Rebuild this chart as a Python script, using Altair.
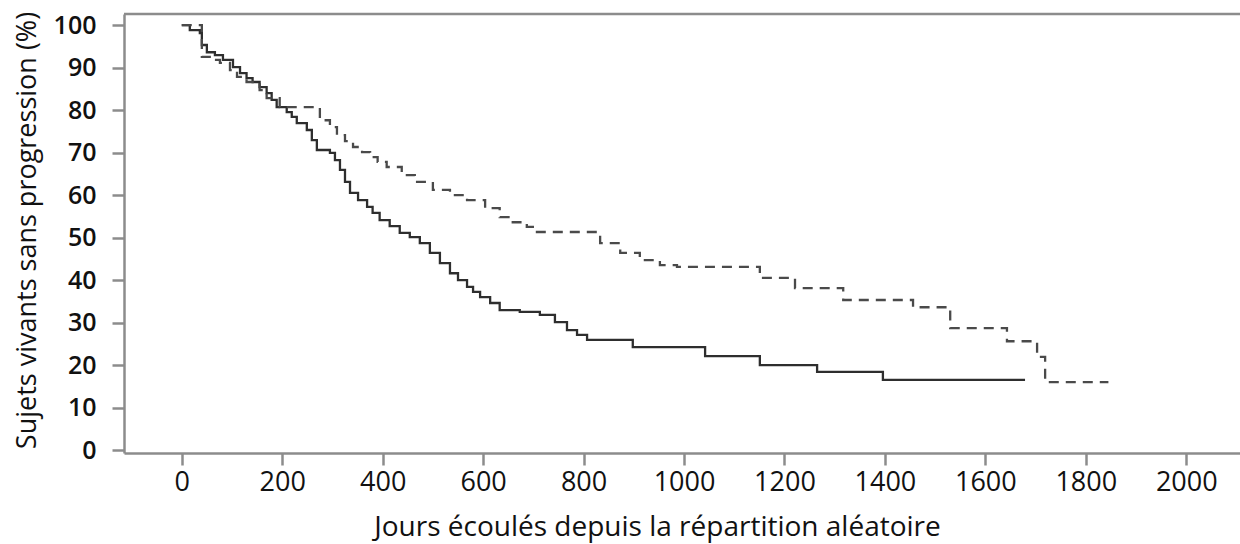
import altair as alt
import pandas as pd

# Kaplan-Meier style step curves: days since randomisation vs % alive without progression
solid_days = [0, 16, 36, 40, 50, 66, 82, 102, 116, 129, 141, 155, 169, 179, 189, 209, 219, 229,
              249, 259, 269, 295, 305, 315, 325, 335, 351, 369, 380, 394, 414, 434, 454, 474,
              494, 514, 534, 550, 568, 580, 594, 614, 633, 673, 713, 743, 767, 787, 807, 898,
              1042, 1151, 1265, 1396, 1679]
solid_pct = [100, 98.8, 98.1, 95.3, 93.6, 92.9, 91.8, 90.1, 88.7, 87.5, 86.6, 85.4, 84.0, 82.4,
             80.7, 79.5, 78.4, 76.9, 75.3, 72.9, 70.6, 69.9, 68.2, 65.9, 63.1, 60.5, 58.8, 57.2,
             55.8, 54.1, 52.7, 51.1, 50.1, 48.7, 46.4, 44.0, 41.6, 40.0, 38.4, 37.2, 36.0, 34.6,
             32.9, 32.5, 31.8, 30.1, 28.2, 27.1, 25.9, 24.2, 22.1, 20.0, 18.4, 16.5, 16.5]

dashed_days = [0, 40, 60, 76, 96, 110, 129, 155, 169, 195, 275, 295, 309, 325, 341, 359, 375,
               390, 408, 438, 464, 500, 534, 568, 604, 633, 659, 687, 699, 833, 873, 912, 952,
               986, 1151, 1221, 1317, 1456, 1530, 1643, 1703, 1719, 1845]
dashed_pct = [100, 92.5, 91.8, 91.1, 89.4, 87.8, 86.6, 84.7, 82.8, 80.7, 77.6, 76.0, 74.1, 72.7,
              71.3, 70.1, 68.9, 67.8, 66.6, 64.7, 63.1, 61.2, 60.0, 58.8, 56.9, 54.8, 53.6, 52.5,
              51.3, 48.7, 46.4, 44.7, 43.5, 43.1, 40.5, 38.1, 35.3, 33.6, 28.7, 25.6, 21.9,
              16.0, 16.0]

x_ticks = list(range(0, 2001, 200))
y_ticks = list(range(0, 101, 10))

groups = ["Groupe 1", "Groupe 2"]

df = pd.concat([
    pd.DataFrame({"jours": solid_days, "pct": solid_pct, "groupe": groups[0]}),
    pd.DataFrame({"jours": dashed_days, "pct": dashed_pct, "groupe": groups[1]}),
], ignore_index=True)

W, H = 1116, 439
AXIS_GREY = "#8c8c8c"
FONT = "Open Sans"

x_axis = alt.Axis(
    values=x_ticks, format="d", grid=False,
    domainColor=AXIS_GREY, domainWidth=2.5,
    tickColor=AXIS_GREY, tickWidth=2.5, tickSize=12,
    labelFont=FONT, labelFontSize=27, labelColor="#111111", labelPadding=4,
    title="Jours écoulés depuis la répartition aléatoire",
    titleFont=FONT, titleFontSize=28, titleFontWeight="normal", titleColor="#111111",
    titleX=533, titleY=74, titleAlign="center", titleBaseline="middle",
)

y_axis = alt.Axis(
    values=y_ticks, format="d", grid=False,
    domainColor=AXIS_GREY, domainWidth=2.5,
    tickColor=AXIS_GREY, tickWidth=2.5, tickSize=12,
    labelFont=FONT, labelFontSize=25, labelFontWeight=600, labelColor="#111111",
    labelPadding=16,
    title="Sujets vivants sans progression (%)",
    titleFont=FONT, titleFontSize=27, titleFontWeight="normal", titleColor="#111111",
    titleX=-97, titleY=216, titleAlign="center", titleBaseline="middle", titleAngle=270,
)

lines = alt.Chart(df).mark_line(interpolate="step-after", strokeWidth=2.3, clip=True).encode(
    x=alt.X("jours:Q", scale=alt.Scale(domain=[-115, 2107], nice=False, zero=False), axis=x_axis),
    y=alt.Y("pct:Q", scale=alt.Scale(domain=[-0.7, 102.6], nice=False, zero=False), axis=y_axis),
    color=alt.Color("groupe:N", scale=alt.Scale(domain=groups, range=["#2e2e2e", "#4a4a4a"]),
                    legend=None),
    strokeDash=alt.StrokeDash("groupe:N", scale=alt.Scale(domain=groups, range=[[1, 0], [10, 7]]),
                              legend=None),
    detail="groupe:N",
)

# top edge of the frame
top_edge = alt.Chart(alt.Data(values=[{}])).mark_rule(
    color=AXIS_GREY, strokeWidth=2.5
).encode(x=alt.value(0), x2=alt.value(W), y=alt.value(0))

chart = alt.layer(lines, top_edge).properties(
    width=W, height=H,
    autosize=alt.AutoSizeParams(type="none"),
    padding={"left": 124, "top": 14, "right": 0, "bottom": 91},
).configure_view(stroke=None)

chart.save("out.html", embed_options={"renderer": "svg", "actions": False})
